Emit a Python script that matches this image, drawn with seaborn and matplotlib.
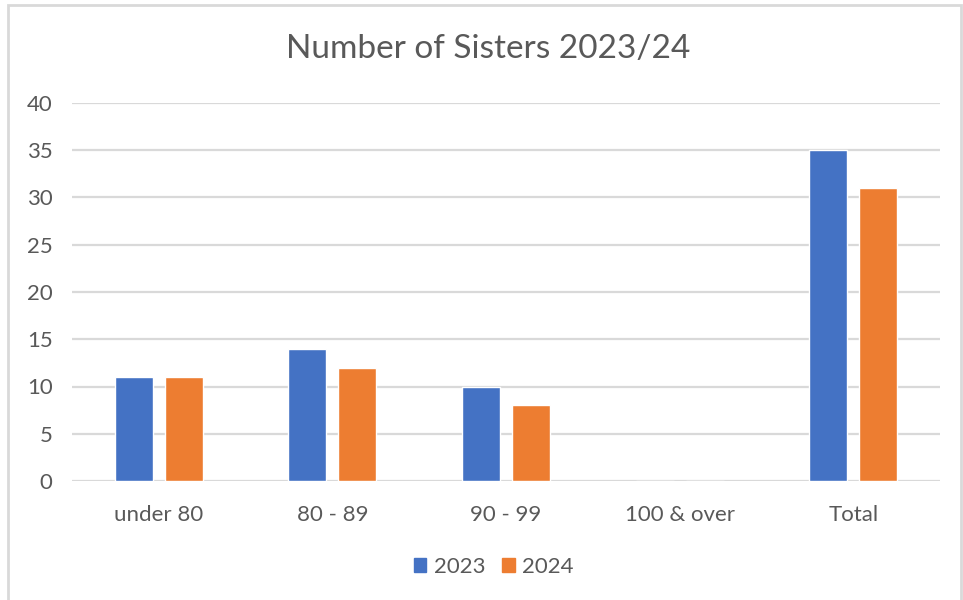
import matplotlib
matplotlib.use("Agg")
import matplotlib.pyplot as plt
from matplotlib.patches import Rectangle, Patch
import seaborn as sns
import pandas as pd

categories = ["under 80", "80 - 89", "90 - 99", "100 & over", "Total"]
values_2023 = [11, 14, 10, 0, 35]
values_2024 = [11, 12, 8, 0, 31]
series = ["2023", "2024"]
colors = ["#4472C4", "#ED7D31"]
y_ticks = [0, 5, 10, 15, 20, 25, 30, 35, 40]

df = pd.DataFrame({
    "category": categories * 2,
    "value": values_2023 + values_2024,
    "year": [series[0]] * len(categories) + [series[1]] * len(categories),
})

sns.set_theme(style="white")
plt.rcParams["font.family"] = ["Lato", "DejaVu Sans"]
text_color = "#595959"
grid_color = "#D9D9D9"

W, H = 963, 600
fig = plt.figure(figsize=(W / 100, H / 100), dpi=100)
left, right, top, bottom = 72, 940, 103, 481
ax = fig.add_axes([left / W, 1 - bottom / H, (right - left) / W, (bottom - top) / H])

sns.barplot(data=df, x="category", y="value", hue="year", hue_order=series,
            palette=colors, width=0.576, gap=0.24, ax=ax, legend=False,
            saturation=1, zorder=3)

ax.set_ylim(0, 40)
ax.set_xlim(-0.5, len(categories) - 0.5)
ax.set_yticks(y_ticks)
ax.set_yticklabels([str(t) for t in y_ticks], color=text_color, fontsize=16)
ax.tick_params(axis="x", colors=text_color, labelsize=16, length=0, pad=17)
ax.tick_params(axis="y", length=0, pad=14)
ax.set_xlabel("")
ax.set_ylabel("")
ax.yaxis.grid(True, color=grid_color, linewidth=1.6, zorder=0)
ax.set_axisbelow(True)
for s in ax.spines.values():
    s.set_visible(False)

fig.text(488 / W, 1 - 49 / H, "Number of Sisters 2023/24", ha="center", va="center",
         fontsize=24, color=text_color)

handles = [Patch(facecolor=c, edgecolor=c) for c in colors]
fig.legend(handles, series, loc="center", bbox_to_anchor=(494 / W, 1 - 567 / H),
           ncol=2, frameon=False, fontsize=16, labelcolor=text_color,
           handlelength=0.55, handleheight=0.55, handletextpad=0.35, columnspacing=0.75)

fig.patches.append(Rectangle((8 / W, -0.05), (961 - 8) / W, 1.05 - 5 / H,
                             transform=fig.transFigure, fill=False,
                             edgecolor=grid_color, linewidth=2))

fig.savefig("out.png", dpi=100, facecolor="white")
